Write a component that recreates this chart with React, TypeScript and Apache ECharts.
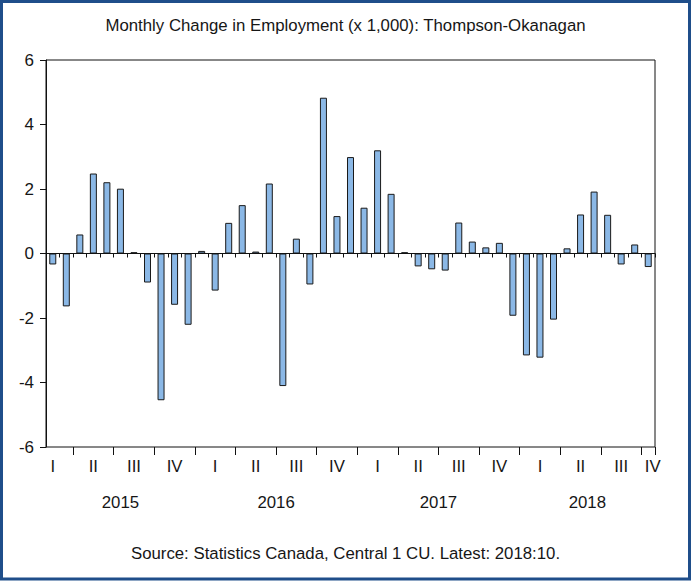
import React, { useEffect, useRef } from "react";
import * as echarts from "echarts";

const titleText = "Monthly Change in Employment (x 1,000): Thompson-Okanagan";
const sourceText = "Source: Statistics Canada, Central 1 CU. Latest: 2018:10.";

const months = [
  "2015:02", "2015:03", "2015:04", "2015:05", "2015:06", "2015:07", "2015:08", "2015:09", "2015:10", "2015:11", "2015:12",
  "2016:01", "2016:02", "2016:03", "2016:04", "2016:05", "2016:06", "2016:07", "2016:08", "2016:09", "2016:10", "2016:11", "2016:12",
  "2017:01", "2017:02", "2017:03", "2017:04", "2017:05", "2017:06", "2017:07", "2017:08", "2017:09", "2017:10", "2017:11", "2017:12",
  "2018:01", "2018:02", "2018:03", "2018:04", "2018:05", "2018:06", "2018:07", "2018:08", "2018:09", "2018:10",
];

const values = [
  -0.34, -1.64, 0.59, 2.48, 2.21, 2.01, 0.04, -0.9, -4.55, -1.59, -2.21,
  0.08, -1.15, 0.95, 1.5, 0.06, 2.17, -4.11, 0.46, -0.96, 4.83, 1.16, 2.99,
  1.42, 3.2, 1.85, 0.04, -0.4, -0.49, -0.53, 0.96, 0.37, 0.19, 0.33, -1.93,
  -3.16, -3.23, -2.05, 0.16, 1.21, 1.92, 1.2, -0.34, 0.28, -0.42,
];

const quarterNames = ["I", "II", "III", "IV"];
const yearLabels = ["2015", "2016", "2017", "2018"];
const yMin = -6;
const yMax = 6;
const yStep = 2;

const FONT = "'Liberation Sans', Arial, sans-serif";
const TEXT = "#161616";
const FS = 16.8;

function quarterLabel(value: string, index: number): string {
  const m = parseInt(value.slice(5), 10);
  const q = quarterNames[Math.floor((m - 1) / 3)];
  if (m % 3 === 2) return q;
  if (index === months.length - 1) return "{e|" + q + "}";
  return "";
}

function yearLabel(_value: string, index: number): string {
  for (const y of yearLabels) {
    const idx = months.map((mm, i) => (mm.startsWith(y) ? i : -1)).filter((i) => i >= 0);
    const center = (idx[0] + idx[idx.length - 1]) / 2;
    if (Number.isInteger(center) && center === index) return y;
    if (!Number.isInteger(center) && Math.floor(center) === index) return "{h|" + y + "}";
  }
  return "";
}

export default function App() {
  const ref = useRef<HTMLDivElement>(null);

  useEffect(() => {
    if (!ref.current) return;
    const chart = echarts.init(ref.current, undefined, { renderer: "svg" });
    chart.setOption({
      animation: false,
      backgroundColor: "#ffffff",
      textStyle: { fontFamily: FONT },
      title: [
        {
          text: titleText,
          left: "center",
          top: 12,
          textStyle: { fontSize: FS, fontWeight: "normal", color: TEXT, fontFamily: FONT },
        },
        {
          text: sourceText,
          left: "center",
          top: 540,
          textStyle: { fontSize: FS, fontWeight: "normal", color: TEXT, fontFamily: FONT },
        },
      ],
      grid: {
        left: 46,
        right: 36,
        top: 60,
        bottom: 134,
        show: true,
        borderColor: "#111",
        borderWidth: 1,
        backgroundColor: "transparent",
      },
      xAxis: [
        {
          type: "category",
          data: months,
          position: "bottom",
          boundaryGap: true,
          axisLine: { show: true, lineStyle: { color: "#111", width: 1 } },
          axisTick: { show: true, interval: 0, length: 4, lineStyle: { color: "#111" } },
          axisLabel: {
            interval: 0,
            margin: 11,
            fontSize: FS,
            color: TEXT,
            fontFamily: FONT,
            formatter: quarterLabel,
            rich: { e: { padding: [0, 0, 0, 9], fontSize: FS, color: TEXT, fontFamily: FONT } },
          },
          splitLine: { show: false },
        },
        {
          type: "category",
          data: months,
          position: "bottom",
          boundaryGap: true,
          axisLine: { show: false },
          axisTick: {
            show: true,
            interval: (i: number) => i % 3 === 2,
            length: 8,
            lineStyle: { color: "#111" },
          },
          axisLabel: {
            interval: 0,
            margin: 47,
            fontSize: FS,
            color: TEXT,
            fontFamily: FONT,
            formatter: yearLabel,
            rich: { h: { padding: [0, 0, 0, 13.5], fontSize: FS, color: TEXT, fontFamily: FONT } },
          },
          splitLine: { show: false },
        },
      ],
      yAxis: {
        type: "value",
        min: yMin,
        max: yMax,
        interval: yStep,
        axisLine: { show: true, lineStyle: { color: "#111", width: 1 } },
        axisTick: { show: true, length: 6, lineStyle: { color: "#111" } },
        axisLabel: { margin: 12, fontSize: 17, color: TEXT, fontFamily: FONT },
        splitLine: { show: false },
      },
      series: [
        {
          type: "bar",
          data: values,
          barWidth: 7,
          itemStyle: { color: "#8BB8E6", borderColor: "#1a1a1a", borderWidth: 1 },
          markLine: {
            silent: true,
            symbol: "none",
            label: { show: false },
            lineStyle: { color: "#111", width: 1, type: "solid" },
            data: [{ yAxis: 0 }],
          },
        },
      ],
      graphic: [
        {
          type: "rect",
          shape: { x: 1.5, y: 1.5, width: 688, height: 577.5 },
          style: { fill: "none", stroke: "#1F4E8A", lineWidth: 3 },
          silent: true,
        },
      ],
    });
    return () => chart.dispose();
  }, []);

  return (
    <div
      ref={ref}
      style={{ position: "fixed", left: 0, top: 0, width: 691, height: 581, background: "#fff" }}
    />
  );
}
